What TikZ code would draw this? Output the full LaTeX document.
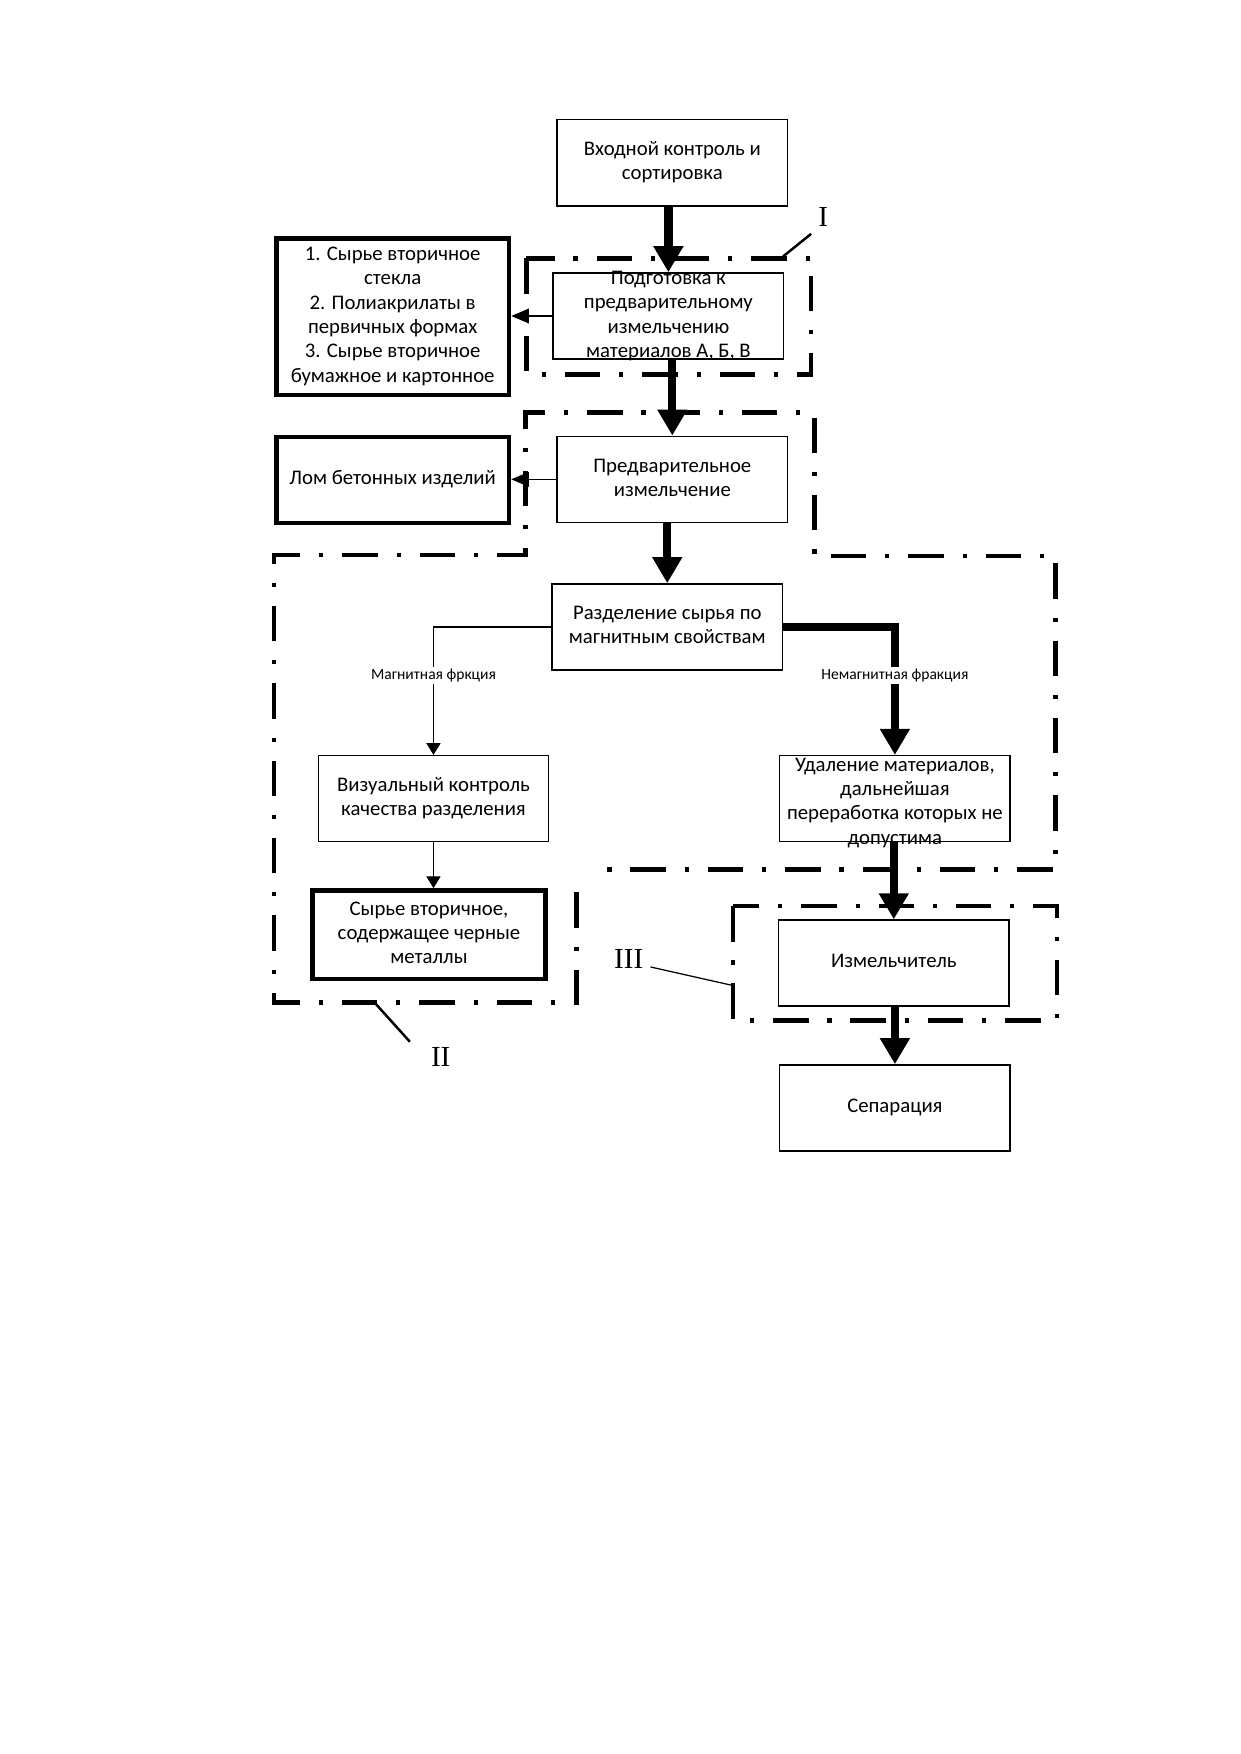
\documentclass[tikz,border=0pt]{standalone}
\usepackage{fontspec}
\setmainfont{Carlito}
\newfontfamily\romfont{Liberation Serif}
\usetikzlibrary{arrows.meta}
\newlength\unitpx
\setlength\unitpx{0.1894mm}
\newcommand{\btext}[2][2.5pt]{\smash{\raisebox{-#1}{\begin{tabular}{@{}c@{}}#2\end{tabular}}}}
\tikzset{
    box/.style={draw, line width=0.7pt, minimum width=206\unitpx, minimum height=77\unitpx, inner sep=0pt, font=\fontsize{10}{11.7}\selectfont},
    boldbox/.style={box, line width=2.2pt, minimum width=208\unitpx},
    zone/.style={line width=2.2pt, dash pattern=on 6mm off 3.2mm on 0.7mm off 3.2mm},
    bigarrow/.style={line width=4pt, -{Triangle[width=4.8mm,length=4.4mm]}},
    thinarrow/.style={line width=0.6pt, -{Triangle[width=2.4mm,length=2mm]}},
    sidearrow/.style={line width=0.6pt, -{Triangle[width=2.5mm,length=3mm]}},
    flowlabel/.style={fill=white, inner sep=1pt, font=\fontsize{7.5}{9}\selectfont},
    roman/.style={font=\romfont\fontsize{14}{16}\selectfont},
    leader/.style={line width=1.2pt}
}
\begin{document}
\begin{tikzpicture}[x=0.1894mm, y=-0.1894mm]
    \useasboundingbox (0,0) rectangle (1109,1568);
    %draw zones
    \draw[zone] (470.6,231) rectangle (725,335);
    \draw[zone] (515.5,797.6) -- (515.5,896) -- (245,896) -- (245,496) -- (470,496) -- (470,369) -- (728,369) -- (728,497) -- (943.7,497) -- (943.7,777.5) -- (529,777.5);
    \draw[zone] (655.2,810) rectangle (945,912.4);
    %draw boxes
    \node[box] (ka) at (601,145.5) {\btext{Входной контроль и\\сортировка}};
    \node[box] (kb) at (597.5,282.5) {\btext{Подготовка к\\предварительному\\измельчению\\материалов А, Б, В}};
    \node[boldbox, minimum height=140\unitpx] (spisok) at (351,283) {\btext{1. Сырье вторичное\\стекла\\2. Полиакрилаты в\\первичных формах\\3. Сырье вторичное\\бумажное и картонное}};
    \node[box] (kc) at (601,428.5) {\btext{Предварительное\\измельчение}};
    \node[boldbox] (lom) at (351,429) {\btext{Лом бетонных изделий}};
    \node[box] (kd) at (596.5,560.5) {\btext{Разделение сырья по\\магнитным свойствам}};
    \node[box] (ke) at (387.5,714) {\btext{Визуальный контроль\\качества разделения}};
    \node[box] (kf) at (800,714) {\btext[4.5pt]{Удаление материалов,\\дальнейшая\\переработка которых не\\допустима}};
    \node[boldbox, minimum height=79\unitpx] (kg) at (383.5,835.5) {\btext{Сырье вторичное,\\содержащее черные\\металлы}};
    \node[box] (kh) at (799,861) {\btext{Измельчитель}};
    \node[box] (ki) at (800,990.5) {\btext{Сепарация}};
    %draw zone names
    \node[roman] (labI) at (736,194) {I};
    \node[roman] (labII) at (394,945) {II};
    \node[roman] (labIII) at (562,857) {III};
    \coordinate (cI) at (700,229.3);
    \coordinate (cII) at (334.6,896);
    \coordinate (cIII) at (655.2,881);
    \draw[leader] (cI) -- (labI.south west);
    \draw[leader, shorten >=3.5mm] (cII) -- (labII.west);
    \draw[line width=0.6pt] (cIII) -- ([yshift=-4pt]labIII.east);
    %draw arrows
    \foreach \a/\b in {ka/kb,kb/kc,kc/kd,kf/kh,kh/ki}
        {%
            \draw[bigarrow] (\b.north |- \a.south) -- (\b.north);
        }
    \draw[sidearrow] (kb.west) -- (kb.west -| spisok.east);
    \draw[sidearrow] (kc.west) -- (kc.west -| lom.east);
    \draw[thinarrow] (kd.west) -| node[flowlabel, pos=0.69] (lmag) {Магнитная фркция} (ke.north);
    \draw[bigarrow] (kd.east) -| node[flowlabel, pos=0.69] (lnemag) {Немагнитная фракция} (kf.north);
    \draw[thinarrow] (ke.south) -- (ke.south |- kg.north);
\end{tikzpicture}
\end{document}
